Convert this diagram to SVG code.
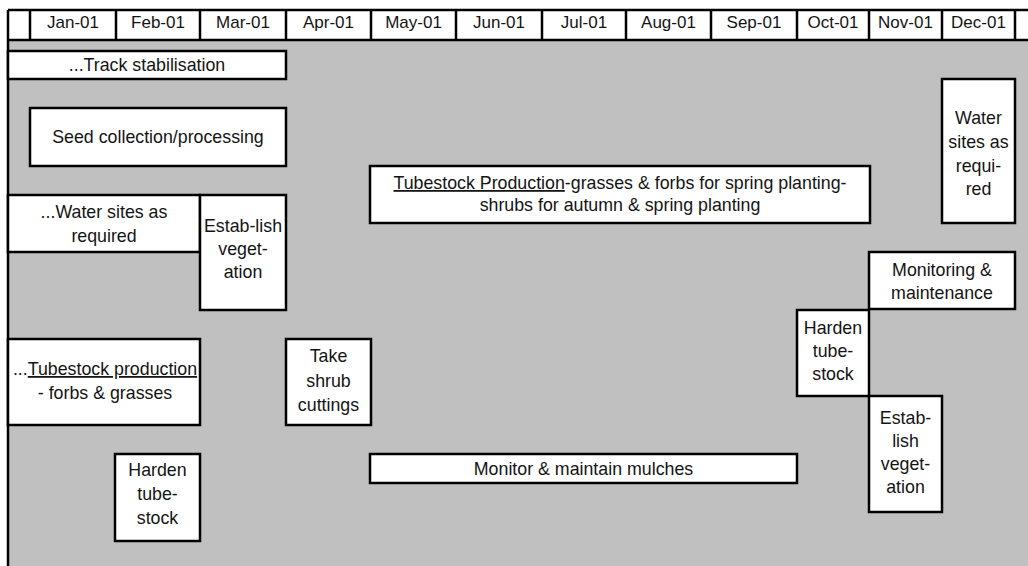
<svg xmlns="http://www.w3.org/2000/svg" width="1028" height="566" viewBox="0 0 1028 566">
<style>
.bx{fill:#ffffff;stroke:#000;stroke-width:2.5}
.t{font-family:"Liberation Sans",Arial,sans-serif;font-size:17.8px;fill:#141414;text-anchor:middle}
.h{font-family:"Liberation Sans",Arial,sans-serif;font-size:17px;fill:#141414;text-anchor:middle}
.ln{stroke:#000;stroke-width:2.5;fill:none}
</style>
<rect x="0" y="0" width="1028" height="566" fill="#ffffff"/>
<rect x="8" y="40" width="1020" height="526" fill="#c0c0c0"/>
<g id="header">
<rect x="8" y="10" width="1022" height="30" fill="#ffffff"/>
<path class="ln" d="M8 10H1028M8 40H1028M8 10V566M30 10V40M116 10V40M200 10V40M286 10V40M371 10V40M456 10V40M542 10V40M626 10V40M711 10V40M797 10V40M869 10V40M942 10V40M1015 10V40"/>
<text class="h" x="73" y="28">Jan-01</text>
<text class="h" x="158" y="28">Feb-01</text>
<text class="h" x="243" y="28">Mar-01</text>
<text class="h" x="328.5" y="28">Apr-01</text>
<text class="h" x="413.5" y="28">May-01</text>
<text class="h" x="499" y="28">Jun-01</text>
<text class="h" x="584" y="28">Jul-01</text>
<text class="h" x="668.5" y="28">Aug-01</text>
<text class="h" x="754" y="28">Sep-01</text>
<text class="h" x="833" y="28">Oct-01</text>
<text class="h" x="905.5" y="28">Nov-01</text>
<text class="h" x="978.5" y="28">Dec-01</text>
</g>
<g id="track">
<rect class="bx" x="8" y="51" width="278" height="28"/>
<text class="t" x="147" y="71">...Track stabilisation</text>
</g>
<g id="seed">
<rect class="bx" x="30" y="108" width="256" height="58"/>
<text class="t" x="158" y="143">Seed collection/processing</text>
</g>
<g id="water-left">
<rect class="bx" x="8" y="195" width="192" height="57"/>
<text class="t" x="104" y="218">...Water sites as</text>
<text class="t" x="104" y="242">required</text>
</g>
<g id="estab-left">
<rect class="bx" x="200" y="195" width="86" height="115"/>
<text class="t" x="243" y="232">Estab-lish</text>
<text class="t" x="243" y="255">veget-</text>
<text class="t" x="243" y="278">ation</text>
</g>
<g id="tubestock-main">
<rect class="bx" x="370" y="166" width="500" height="57"/>
<text class="t" x="620" y="189"><tspan text-decoration="underline">Tubestock Production</tspan>-grasses &amp; forbs for spring planting-</text>
<text class="t" x="620" y="211">shrubs for autumn &amp; spring planting</text>
</g>
<g id="water-right">
<rect class="bx" x="942" y="79" width="73" height="144"/>
<text class="t" x="978.5" y="124">Water</text>
<text class="t" x="978.5" y="148">sites as</text>
<text class="t" x="978.5" y="172">requi-</text>
<text class="t" x="978.5" y="195">red</text>
</g>
<g id="monitoring">
<rect class="bx" x="869" y="252" width="146" height="57"/>
<text class="t" x="942" y="276">Monitoring &amp;</text>
<text class="t" x="942" y="299">maintenance</text>
</g>
<g id="harden-right">
<rect class="bx" x="797" y="310" width="72" height="86"/>
<text class="t" x="833" y="334">Harden</text>
<text class="t" x="833" y="357">tube-</text>
<text class="t" x="833" y="380">stock</text>
</g>
<g id="estab-right">
<rect class="bx" x="869" y="396" width="73" height="116"/>
<text class="t" x="905.5" y="424">Estab-</text>
<text class="t" x="905.5" y="447">lish</text>
<text class="t" x="905.5" y="470">veget-</text>
<text class="t" x="905.5" y="493">ation</text>
</g>
<g id="tubestock-left">
<rect class="bx" x="8" y="339" width="192" height="86"/>
<text class="t" x="105" y="375">...<tspan text-decoration="underline">Tubestock production</tspan></text>
<text class="t" x="105" y="399">- forbs &amp; grasses</text>
</g>
<g id="cuttings">
<rect class="bx" x="286" y="339" width="85" height="86"/>
<text class="t" x="328.5" y="362">Take</text>
<text class="t" x="328.5" y="387">shrub</text>
<text class="t" x="328.5" y="411">cuttings</text>
</g>
<g id="harden-left">
<rect class="bx" x="115" y="454" width="85" height="87"/>
<text class="t" x="157.5" y="476">Harden</text>
<text class="t" x="157.5" y="500">tube-</text>
<text class="t" x="157.5" y="524">stock</text>
</g>
<g id="mulches">
<rect class="bx" x="370" y="454" width="427" height="29"/>
<text class="t" x="583.5" y="475">Monitor &amp; maintain mulches</text>
</g>
<g id="connectors"></g>
</svg>
